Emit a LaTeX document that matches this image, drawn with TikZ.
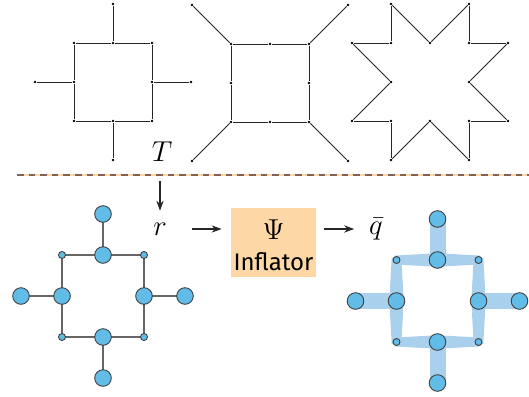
\documentclass[tikz,border=0pt]{standalone}
\usepackage[no-math]{fontspec}
\newfontfamily\inflfont{Fira Sans}
\usetikzlibrary{arrows.meta,positioning,calc}

\definecolor{nodeblue}{HTML}{62BCE8}
\definecolor{bandblue}{HTML}{A9D0EC}
\definecolor{boxpeach}{HTML}{FDD8A6}
\definecolor{sepbrown}{HTML}{7E6258}

\begin{document}
\begin{tikzpicture}[
  x=0.5pt, y=-0.5pt,
  >={Stealth[length=5pt, width=3.6pt]},
  dot/.style={circle, fill=black, inner sep=0pt, minimum size=1.4pt},
  edge/.style={draw=black!85, line width=0.45pt},
  big/.style={circle, draw=black!75, fill=nodeblue, line width=0.45pt,
              inner sep=0pt, minimum size=8.3pt},
  small/.style={big, minimum size=3.5pt},
  link/.style={draw=black!60, line width=0.55pt},
  band/.style={fill=bandblue},
  lbl/.style={font=\fontsize{14.5}{16}\selectfont},
  box/.style={fill=boxpeach, inner sep=0pt,
              minimum width=42.5pt, minimum height=34.5pt},
  arr/.style={->, line width=0.6pt, draw=black!85}]
\useasboundingbox (0,0) rectangle (529,396);

% three templates
\begin{scope}[shift={(113,82)}, x=19.5pt, y=-19.5pt]
  \foreach \n/\x/\y in {c1/-1/-1, c2/1/-1, c3/1/1, c4/-1/1,
                        m1/0/-1, m2/1/0, m3/0/1, m4/-1/0,
                        s1/0/-2, s2/2/0, s3/0/2, s4/-2/0}
    \node[dot] (a\n) at (\x,\y) {};
  \draw[edge] (ac1) -- (am1) -- (ac2) -- (am2) -- (ac3) -- (am3) -- (ac4) -- (am4) -- (ac1);
  \foreach \i in {1,...,4}
    \draw[edge] (am\i) -- (as\i);
\end{scope}

\begin{scope}[shift={(270,83)}, x=19.5pt, y=-19.5pt]
  \foreach \n/\x/\y in {c1/-1/-1, c2/1/-1, c3/1/1, c4/-1/1,
                        m1/0/-1, m2/1/0, m3/0/1, m4/-1/0,
                        s1/-2/-2, s2/2/-2, s3/2/2, s4/-2/2}
    \node[dot] (b\n) at (\x,\y) {};
  \draw[edge] (bc1) -- (bm1) -- (bc2) -- (bm2) -- (bc3) -- (bm3) -- (bc4) -- (bm4) -- (bc1);
  \foreach \i in {1,...,4}
    \draw[edge] (bc\i) -- (bs\i);
\end{scope}

\begin{scope}[shift={(430,82)}, x=19.5pt, y=-19.5pt]
  \foreach \i/\x/\y in {1/-1/-2, 2/0/-1, 3/1/-2, 4/1/-1, 5/2/-1, 6/1/0, 7/2/1, 8/1/1,
                        9/1/2, 10/0/1, 11/-1/2, 12/-1/1, 13/-2/1, 14/-1/0, 15/-2/-1, 16/-1/-1}
    \node[dot] (p\i) at (\x,\y) {};
  \foreach \i [remember=\i as \j (initially 16)] in {1,...,16}
    \draw[edge] (p\j) -- (p\i);
\end{scope}

\node[lbl] (T) at (162,152) {$T$};

% separator
\coordinate (sepl) at (17,175);
\coordinate (sepr) at (529,175);
\draw[boxpeach, line width=1.3pt] (sepl) -- (sepr);
\draw[sepbrown, line width=0.9pt, dash pattern=on 3.3pt off 2.5pt] (sepl) -- (sepr);

% pipeline
\coordinate (down) at (160,181);
\node[lbl] (r) at (160,229) {$r$};
\node[box] (infl) at (273.5,242.5) {};
\node[font=\fontsize{15}{17}\selectfont, inner sep=0pt] (psi) at (273.5,229.5)
  {$\Psi$};
\node[font=\inflfont\fontsize{12}{14}\selectfont, inner sep=0pt, anchor=base]
  (infltxt) at (273.5,270) {Inflator};
\node[lbl] (qbar) at (376,229) {$\bar{q}$};
\draw[arr, shorten >=2.5pt] (down) -- (r);
\draw[arr, shorten <=9pt, shorten >=4.5pt] (r) -- (r -| infl.west);
\draw[arr, shorten <=4pt, shorten >=4pt] (qbar -| infl.east) -- (qbar);

% skeleton r
\begin{scope}[shift={(103,296)}, x=20.5pt, y=-20.5pt]
  \foreach \n/\x/\y in {m1/0/-1, m2/1/0, m3/0/1, m4/-1/0,
                        s1/0/-2, s2/2/0, s3/0/2, s4/-2/0}
    \coordinate (r\n) at (\x,\y);
  \foreach \n/\x/\y in {c1/-1/-1, c2/1/-1, c3/1/1, c4/-1/1}
    \coordinate (r\n) at (\x,\y);
  \draw[link] (rc1) -- (rc2) -- (rc3) -- (rc4) -- cycle;
  \foreach \i in {1,...,4}
    \draw[link] (rm\i) -- (rs\i);
  \foreach \n in {m1,m2,m3,m4,s1,s2,s3,s4}
    \node[big] at (r\n) {};
  \foreach \n in {c1,c2,c3,c4}
    \node[small] at (r\n) {};
\end{scope}

% inflated q
\begin{scope}[shift={(437.5,301)}, x=20.5pt, y=-20.5pt]
  \foreach \n/\x/\y in {m1/0/-1, m2/1/0, m3/0/1, m4/-1/0,
                        s1/0/-2, s2/2/0, s3/0/2, s4/-2/0}
    \coordinate (q\n) at (\x,\y);
  \foreach \n/\x/\y in {c1/-1/-1, c2/1/-1, c3/1/1, c4/-1/1}
    \coordinate (q\n) at (\x,\y);
  % spokes
  \fill[band] ($(qm1)+(-4pt,0)$) rectangle ($(qs1)+(4pt,0)$);
  \fill[band] ($(qm3)+(-4pt,0)$) rectangle ($(qs3)+(4pt,0)$);
  \fill[band] ($(qm2)+(0,-4pt)$) rectangle ($(qs2)+(0,4pt)$);
  \fill[band] ($(qm4)+(0,-4pt)$) rectangle ($(qs4)+(0,4pt)$);
  % sides
  \foreach \a/\m/\b in {c1/m1/c2, c4/m3/c3}
    \fill[band] ($(q\a)+(-1pt,2.2pt)$) -- ($(q\m)+(0,3.4pt)$) -- ($(q\b)+(1pt,2.2pt)$)
      -- ($(q\b)+(1pt,-2.2pt)$) -- ($(q\m)+(0,-3.4pt)$) -- ($(q\a)+(-1pt,-2.2pt)$) -- cycle;
  \foreach \a/\m/\b in {c1/m4/c4, c2/m2/c3}
    \fill[band] ($(q\a)+(-2.4pt,1pt)$) -- ($(q\m)+(-3.6pt,0)$) -- ($(q\b)+(-2.4pt,-1pt)$)
      -- ($(q\b)+(2.4pt,-1pt)$) -- ($(q\m)+(3.6pt,0)$) -- ($(q\a)+(2.4pt,1pt)$) -- cycle;
  \foreach \n in {m1,m2,m3,m4,s1,s2,s3,s4}
    \node[big] at (q\n) {};
  \foreach \n in {c1,c2,c3,c4}
    \node[small] at (q\n) {};
\end{scope}
\end{tikzpicture}
\end{document}
